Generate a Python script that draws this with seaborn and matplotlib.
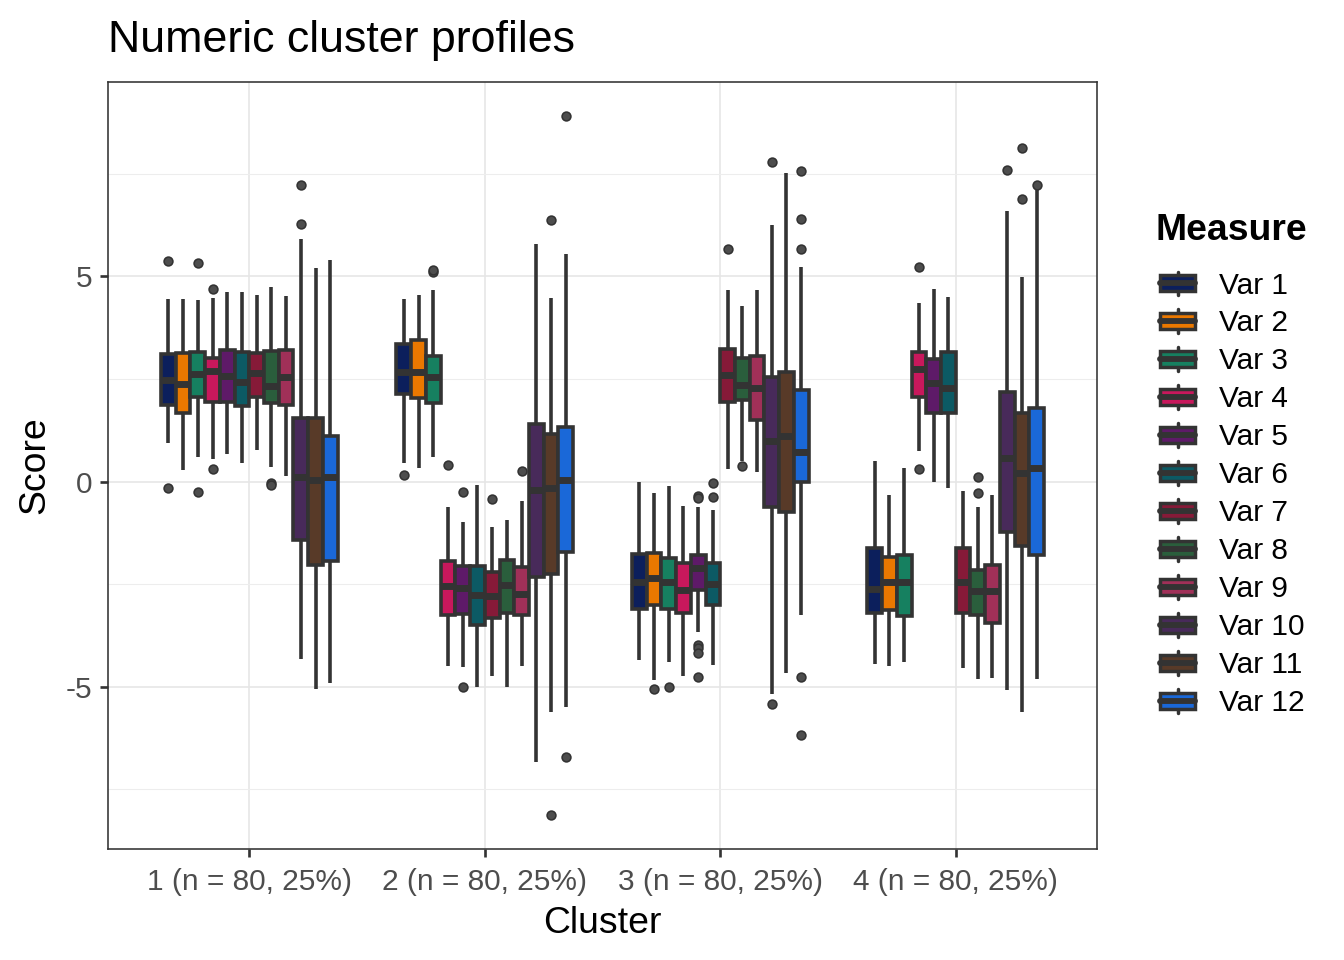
import pandas as pd
import matplotlib
matplotlib.use("Agg")
import matplotlib.pyplot as plt
import seaborn as sns
from matplotlib.legend_handler import HandlerBase
from matplotlib.patches import Rectangle, Patch
from matplotlib.lines import Line2D
from matplotlib.ticker import FixedLocator, MultipleLocator


CLUSTERS = ["1 (n = 80, 25%)", "2 (n = 80, 25%)", "3 (n = 80, 25%)", "4 (n = 80, 25%)"]
MEASURES = [f"Var {i}" for i in range(1, 13)]
COLORS = ["#0c1f5c", "#ea7800", "#168060", "#c8185c", "#5e1a68", "#0c5a64",
          "#861a38", "#2a5e3c", "#a03058", "#482a5a", "#583a28", "#1a68d8"]

# box summaries (one row per cluster, one column per measure)
WHISK_LO = [
    [0.95, 0.27, 0.60, 0.55, 0.67, 0.44, 0.77, 0.35, 0.14, -4.32, -5.06, -4.91],
    [0.45, 0.33, 0.59, -4.49, -4.53, -5.02, -4.73, -5.00, -4.49, -6.83, -5.63, -5.50],
    [-4.35, -4.84, -4.41, -4.73, -3.66, -4.47, 0.31, 0.50, 0.22, -5.18, -4.66, -3.25],
    [-4.46, -4.50, -4.39, 0.75, 0.00, -0.15, -4.54, -4.82, -4.78, -5.08, -5.63, -4.81],
]
Q1 = [
    [1.87, 1.67, 2.07, 1.95, 1.95, 1.84, 2.06, 1.91, 1.87, -1.42, -2.04, -1.95],
    [2.14, 2.03, 1.92, -3.25, -3.22, -3.50, -3.33, -3.21, -3.25, -2.33, -2.25, -1.73],
    [-3.11, -3.02, -3.10, -3.20, -2.65, -3.01, 1.95, 1.98, 1.50, -0.61, -0.75, 0.00],
    [-3.21, -3.13, -3.29, 2.05, 1.67, 1.68, -3.20, -3.25, -3.46, -1.22, -1.57, -1.79],
]
MEDIAN = [
    [2.47, 2.37, 2.63, 2.70, 2.58, 2.43, 2.65, 2.32, 2.55, 0.12, 0.04, 0.12],
    [2.67, 2.67, 2.54, -2.54, -2.60, -2.76, -2.80, -2.52, -2.74, -0.20, -0.16, 0.04],
    [-2.44, -2.36, -2.44, -2.64, -2.11, -2.50, 2.60, 2.36, 2.28, 0.98, 1.11, 0.71],
    [-2.62, -2.46, -2.44, 2.74, 2.40, 2.28, -2.46, -2.68, -2.68, 0.57, 0.20, 0.33],
]
Q3 = [
    [3.10, 3.13, 3.15, 3.00, 3.21, 3.15, 3.13, 3.19, 3.21, 1.56, 1.54, 1.11],
    [3.36, 3.46, 3.07, -1.93, -2.05, -2.07, -2.20, -1.91, -2.09, 1.39, 1.15, 1.33],
    [-1.76, -1.75, -1.87, -1.99, -1.80, -1.98, 3.24, 3.02, 3.05, 2.54, 2.67, 2.23],
    [-1.63, -1.85, -1.79, 3.15, 2.99, 3.15, -1.63, -2.15, -2.03, 2.17, 1.68, 1.78],
]
WHISK_HI = [
    [4.44, 4.44, 4.42, 4.48, 4.61, 4.63, 4.54, 4.73, 4.53, 5.90, 5.20, 5.41],
    [4.46, 4.54, 4.66, -0.63, -0.98, -0.08, -1.10, -0.95, -0.47, 5.78, 4.48, 5.54],
    [0.00, -0.28, -0.12, -0.59, -0.63, -0.69, 4.67, 4.29, 4.67, 6.26, 7.52, 5.24],
    [0.51, -0.33, 0.34, 4.35, 4.70, 4.51, -0.23, -0.61, -0.33, 6.59, 4.98, 7.10],
]
# outlying points, keyed by (cluster, measure)
OUTLIERS = {
    (0, 0): [5.37, -0.15], (0, 2): [5.33, -0.26], (0, 3): [4.69, 0.30],
    (0, 7): [-0.03, -0.08], (0, 9): [6.27, 7.22],
    (1, 0): [0.15], (1, 2): [5.11, 5.16], (1, 3): [0.41], (1, 4): [-0.25, -5.02],
    (1, 6): [-0.42], (1, 8): [0.25], (1, 10): [6.38, -8.13], (1, 11): [8.90, -6.72],
    (2, 1): [-5.07], (2, 2): [-5.02],
    (2, 4): [-0.35, -0.41, -3.98, -4.07, -4.19, -4.76], (2, 5): [-0.04, -0.37],
    (2, 6): [5.68], (2, 7): [0.37], (2, 9): [7.78, -5.42],
    (2, 11): [5.67, 6.40, 7.57, -4.76, -6.18],
    (3, 3): [5.23, 0.30], (3, 7): [0.10, -0.27], (3, 9): [7.59],
    (3, 10): [6.89, 8.13], (3, 11): [7.22],
}

INK = "#333333"


def build_frame():
    # repeat the summary values so the quartiles come out as read
    rows = []
    for c, cl in enumerate(CLUSTERS):
        for v, ms in enumerate(MEASURES):
            vals = ([WHISK_LO[c][v]] + [Q1[c][v]] * 10 + [MEDIAN[c][v]] * 7
                    + [Q3[c][v]] * 10 + [WHISK_HI[c][v]] + OUTLIERS.get((c, v), []))
            rows += [{"Cluster": cl, "Measure": ms, "Score": s} for s in vals]
    return pd.DataFrame(rows)


class BoxKey(HandlerBase):
    def create_artists(self, legend, orig_handle, xdescent, ydescent,
                       width, height, fontsize, trans):
        x0, y0 = -xdescent, -ydescent
        cx, cy = x0 + width / 2, y0 + height / 2
        bh = height * 0.6
        whisk = Line2D([cx, cx], [y0 + 0.06 * height, y0 + 0.94 * height],
                       color=INK, lw=1.3, transform=trans)
        box = Rectangle((x0, cy - bh / 2), width, bh, facecolor=orig_handle.get_facecolor(),
                        edgecolor=INK, lw=1.3, transform=trans)
        med = Line2D([x0, x0 + width], [cy, cy], color=INK, lw=2.2, transform=trans)
        return [whisk, box, med]


sns.set_style("white")
plt.rcParams["font.family"] = ["Liberation Sans", "DejaVu Sans"]
plt.rcParams["axes.unicode_minus"] = False
plt.rcParams["text.color"] = "black"
plt.rcParams["axes.labelcolor"] = "black"

df = build_frame()

fig = plt.figure(figsize=(7, 5), dpi=192)
ax = fig.add_axes([0.0804, 0.1156, 0.7358, 0.799])

sns.boxplot(data=df, x="Cluster", y="Score", hue="Measure", order=CLUSTERS,
            hue_order=MEASURES, palette=COLORS, saturation=1, width=0.75, gap=0,
            linewidth=1.35, linecolor=INK, legend=False, ax=ax, showcaps=False,
            medianprops=dict(linewidth=2.6, color=INK),
            flierprops=dict(marker="o", markersize=3.3, markerfacecolor="#4d4d4d",
                            markeredgecolor=INK, markeredgewidth=0.6))

ax.set_xlim(-0.6, 3.6)
ax.set_ylim(-8.96, 9.74)
ax.yaxis.set_major_locator(FixedLocator([-5, 0, 5]))
ax.yaxis.set_minor_locator(MultipleLocator(2.5))
ax.set_axisbelow(True)
ax.grid(True, which="major", color="#e6e6e6", lw=0.6)
ax.grid(True, which="minor", axis="y", color="#ededed", lw=0.4)
ax.xaxis.grid(True, which="major", color="#e6e6e6", lw=0.6)
for sp in ax.spines.values():
    sp.set_visible(True)
    sp.set_color(INK)
    sp.set_linewidth(0.6)

ax.tick_params(axis="both", which="major", length=3, width=1.0, color=INK,
               labelsize=11.2, labelcolor="#4d4d4d", pad=3, bottom=True, left=True)
ax.tick_params(axis="x", which="major", pad=4)
ax.tick_params(axis="y", which="minor", length=0)
ax.set_xlabel("Cluster", fontsize=14, labelpad=4)
ax.set_ylabel("Score", fontsize=14, labelpad=5)

fig.text(0.0804, 0.958, "Numeric cluster profiles", fontsize=16.8, ha="left", va="center")
fig.text(0.8594, 0.7594, "Measure", fontsize=14, fontweight="bold", ha="left", va="center")

handles = [Patch(facecolor=c) for c in COLORS]
leg = fig.legend(handles, MEASURES, handler_map={Patch: BoxKey()},
                 loc="upper left", bbox_to_anchor=(0.852, 0.7344), frameon=False,
                 fontsize=11.2, handlelength=1.18, handleheight=1.0, handletextpad=0.8,
                 labelspacing=0.28, borderpad=0)

fig.savefig("out.png", dpi=192)
